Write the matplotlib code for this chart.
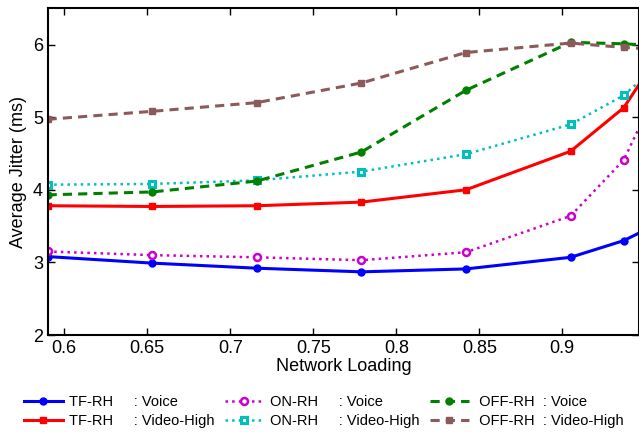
import matplotlib.pyplot as plt

plt.rcParams["font.family"] = ["Liberation Sans", "DejaVu Sans"]

loading = [0.59, 0.653, 0.716, 0.779, 0.842, 0.905, 0.937, 0.968]

tf_voice = [3.08, 2.99, 2.92, 2.87, 2.91, 3.07, 3.30, 3.65]
tf_video = [3.78, 3.77, 3.78, 3.83, 4.00, 4.53, 5.13, 6.20]
on_voice = [3.15, 3.10, 3.07, 3.03, 3.14, 3.64, 4.41, 5.90]
on_video = [4.07, 4.08, 4.13, 4.25, 4.49, 4.90, 5.30, 5.93]
off_voice = [3.93, 3.97, 4.12, 4.52, 5.37, 6.03, 6.01, 5.97]
off_video = [4.97, 5.08, 5.20, 5.47, 5.89, 6.02, 5.96, 5.92]

labels = [
    "TF-RH     : Voice",
    "TF-RH     : Video-High",
    "ON-RH     : Voice",
    "ON-RH     : Video-High",
    " OFF-RH  : Voice",
    " OFF-RH  : Video-High",
]

fig = plt.figure(figsize=(6.39, 4.32), dpi=100)
ax = fig.add_axes([0.075, 0.2245, 0.925, 0.7565])

ax.plot(loading, tf_voice, color="#0000ff", lw=2.2, marker="o", ms=5, label=labels[0])
ax.plot(loading, tf_video, color="#ff0000", lw=2.2, marker="s", ms=5, label=labels[1])
ax.plot(loading, on_voice, color="#cc00cc", lw=1.8, ls=":", marker="o", ms=5,
        mfc="white", mew=1.8, label=labels[2])
ax.plot(loading, on_video, color="#00bfbf", lw=1.8, ls=":", marker="s", ms=5,
        mfc="white", mew=2.2, label=labels[3])
ax.plot(loading, off_voice, color="#008000", lw=2.2, ls=(0, (3, 2)), marker="o", ms=5,
        label=labels[4])
ax.plot(loading, off_video, color="#8c5a5a", lw=2.2, ls=(0, (3, 2)), marker="s", ms=5,
        label=labels[5])

ax.set_xlim(0.5902, 0.9462)
ax.set_ylim(2, 6.5)
ax.set_xticks([0.6, 0.65, 0.7, 0.75, 0.8, 0.85, 0.9])
ax.set_xticklabels(["0.6", "0.65", "0.7", "0.75", "0.8", "0.85", "0.9"])
ax.set_yticks([2, 3, 4, 5, 6])
ax.tick_params(direction="in", top=True, right=True, labelsize=13, length=5, width=1)
for s in ax.spines.values():
    s.set_linewidth(1.5)

ax.set_xlabel("Network Loading", fontsize=13, labelpad=1)
ax.set_ylabel("Average Jitter (ms)", fontsize=13, labelpad=4)

fig.legend(loc="upper left", bbox_to_anchor=(0.028, 0.1), ncol=3, frameon=False,
           fontsize=10.5, handlelength=2.7, handletextpad=0.4, columnspacing=0.7,
           labelspacing=0.38, borderaxespad=0)

fig.savefig("out.png", dpi=100)
